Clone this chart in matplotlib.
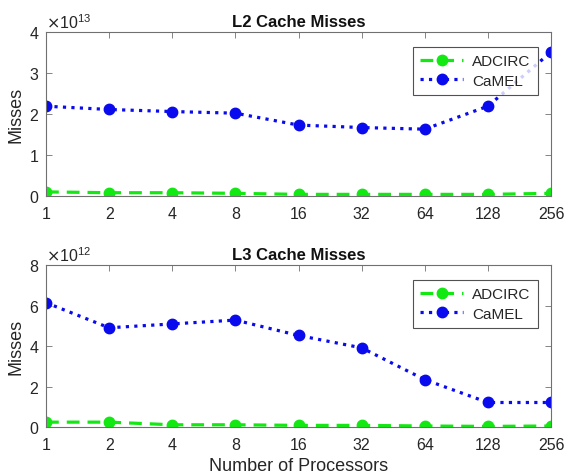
import matplotlib
matplotlib.use("Agg")
import matplotlib.pyplot as plt
from matplotlib.ticker import ScalarFormatter, FixedLocator, FixedFormatter

plt.rcParams['font.family'] = ['Liberation Sans', 'DejaVu Sans']

procs = [1, 2, 4, 8, 16, 32, 64, 128, 256]
proc_labels = ['1', '2', '4', '8', '16', '32', '64', '128', '256']

l2_adcirc = [0.10e13, 0.08e13, 0.08e13, 0.065e13, 0.04e13, 0.04e13, 0.04e13, 0.04e13, 0.065e13]
l2_camel = [2.19e13, 2.11e13, 2.06e13, 2.02e13, 1.73e13, 1.67e13, 1.63e13, 2.19e13, 3.51e13]

l3_adcirc = [0.24e12, 0.24e12, 0.11e12, 0.11e12, 0.08e12, 0.08e12, 0.05e12, 0.03e12, 0.05e12]
l3_camel = [6.14e12, 4.90e12, 5.09e12, 5.28e12, 4.52e12, 3.91e12, 2.34e12, 1.21e12, 1.21e12]

W, H = 564, 477
fig = plt.figure(figsize=(W / 100, H / 100), dpi=100)
fig.patch.set_facecolor('white')

green = '#12e812'
blue = '#0a0aee'
gray = '#262626'
spine_gray = '#707070'

def make_ax(rect, adc, cam, ymax, yticks, title, xlabel=None):
    ax = fig.add_axes(rect)
    ax.plot(procs, adc, color=green, linestyle='--', dashes=(4, 2.5), lw=2.3,
            marker='o', markersize=7.5, label='ADCIRC')
    ax.plot(procs, cam, color=blue, linestyle=':', lw=2.3,
            marker='o', markersize=7.5, label='CaMEL')
    ax.set_xscale('log', base=2)
    ax.set_xlim(1, 256)
    ax.set_ylim(0, ymax)
    ax.xaxis.set_major_locator(FixedLocator(procs))
    ax.xaxis.set_major_formatter(FixedFormatter(proc_labels))
    ax.xaxis.set_minor_locator(FixedLocator([]))
    ax.set_yticks(yticks)
    fmt = ScalarFormatter(useMathText=True)
    fmt.set_powerlimits((0, 0))
    ax.yaxis.set_major_formatter(fmt)
    ax.yaxis.get_offset_text().set_fontsize(11.5)
    ax.yaxis.get_offset_text().set_color('#555555')
    ax.tick_params(direction='in', top=True, right=True, length=4, width=0.6,
                   colors=spine_gray, labelcolor=gray, labelsize=11.5)
    ax.tick_params(axis='x', pad=7)
    ax.tick_params(axis='y', pad=5)
    for s in ax.spines.values():
        s.set_color(spine_gray)
        s.set_linewidth(0.8)
    ax.set_title(title, fontsize=12, fontweight='bold', color='#111111', pad=4)
    ax.set_ylabel('Misses', fontsize=13, color=gray, labelpad=3)
    if xlabel:
        ax.set_xlabel(xlabel, fontsize=13, color=gray, labelpad=4)
    leg = ax.legend(loc='upper right', bbox_to_anchor=(0.975, 0.91), fontsize=11,
                    handlelength=2.8, frameon=True, fancybox=False,
                    edgecolor=gray, borderpad=0.5, labelspacing=0.35,
                    handletextpad=0.6, borderaxespad=0)
    leg.get_frame().set_linewidth(0.8)
    for t in leg.get_texts():
        t.set_color(gray)
    return ax

make_ax([46 / W, 1 - 197 / H, 505 / W, 164 / H], l2_adcirc, l2_camel, 4e13,
        [0, 1e13, 2e13, 3e13, 4e13], 'L2 Cache Misses')
make_ax([46 / W, 1 - 428 / H, 505 / W, 162 / H], l3_adcirc, l3_camel, 8e12,
        [0, 2e12, 4e12, 6e12, 8e12], 'L3 Cache Misses', 'Number of Processors')

fig.savefig('out.png', dpi=100)
